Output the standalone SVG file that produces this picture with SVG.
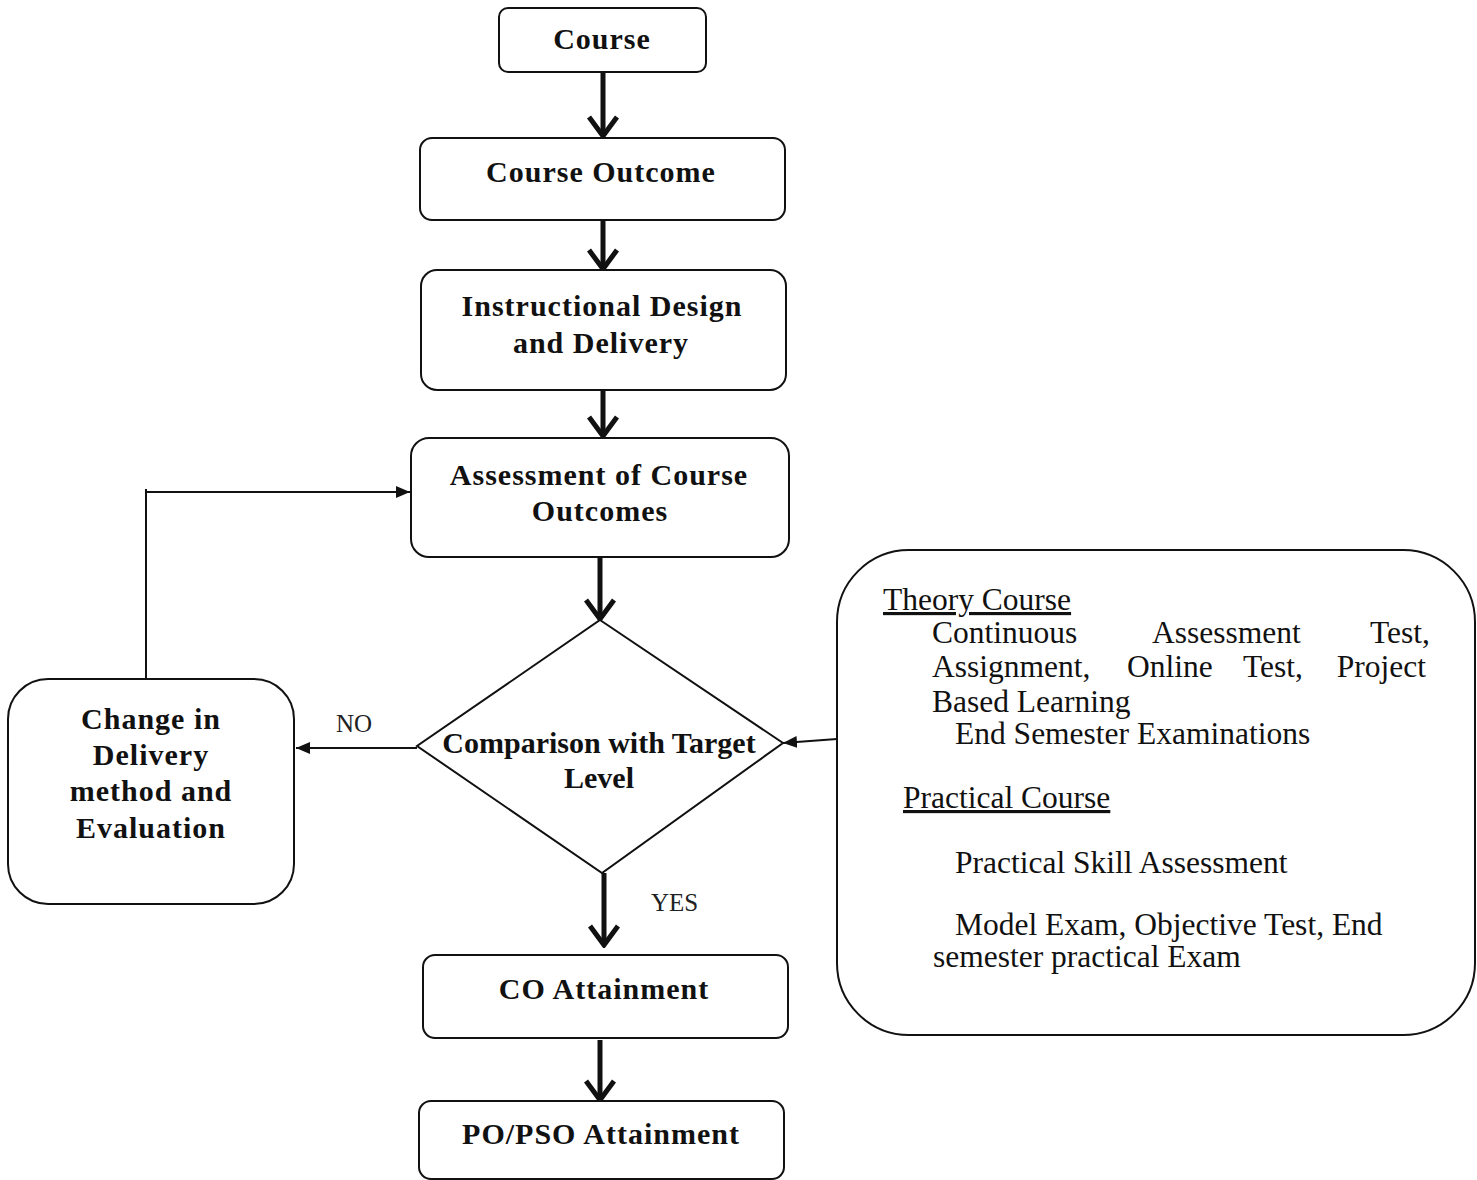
<svg xmlns="http://www.w3.org/2000/svg" width="1477" height="1180" viewBox="0 0 1477 1180">
<defs>
<style>
.box{fill:#fff;stroke:#111;stroke-width:2}
.nt{font-family:"Liberation Serif","Times New Roman",serif;font-weight:bold;font-size:30px;letter-spacing:1px;fill:#111;text-anchor:middle}
.dt{letter-spacing:0}
.rt{font-family:"Liberation Serif","Times New Roman",serif;font-size:31.5px;fill:#111}
.lbl{font-family:"Liberation Serif","Times New Roman",serif;font-size:25px;fill:#222}
.thick{stroke:#111;stroke-width:5;fill:none}
.thin{stroke:#111;stroke-width:2;fill:none}
</style>
<marker id="vee" viewBox="0 0 24 32" refX="21" refY="16" markerWidth="24" markerHeight="32" markerUnits="userSpaceOnUse" orient="auto">
<path d="M2,2 L21,16 L2,30" fill="none" stroke="#111" stroke-width="5"/>
</marker>
<marker id="tri" viewBox="0 0 14 12" refX="14" refY="6" markerWidth="14" markerHeight="12" markerUnits="userSpaceOnUse" orient="auto">
<path d="M0,0 L14,6 L0,12 Z" fill="#111"/>
</marker>
</defs>
<rect width="1477" height="1180" fill="#fff"/>

<g id="connectors">
<line class="thick" x1="603" y1="72" x2="603" y2="136" marker-end="url(#vee)"/>
<line class="thick" x1="603" y1="221" x2="603" y2="269" marker-end="url(#vee)"/>
<line class="thick" x1="603" y1="391" x2="603" y2="436" marker-end="url(#vee)"/>
<line class="thick" x1="600" y1="558" x2="600" y2="619" marker-end="url(#vee)"/>
<line class="thick" x1="604" y1="873" x2="604" y2="945" marker-end="url(#vee)"/>
<line class="thick" x1="600" y1="1040" x2="600" y2="1100" marker-end="url(#vee)"/>
<polyline class="thin" points="146,679 146,489"/>
<line class="thin" x1="145" y1="492" x2="410" y2="492" marker-end="url(#tri)"/>
<line class="thin" x1="417" y1="748" x2="296" y2="748" marker-end="url(#tri)"/>
<line class="thin" x1="837" y1="739" x2="783" y2="743" marker-end="url(#tri)"/>
<text class="lbl" x="336" y="732">NO</text>
<text class="lbl" x="651" y="911">YES</text>
</g>

<g id="course">
<rect class="box" x="499" y="8" width="207" height="64" rx="9"/>
<text class="nt" x="602" y="49">Course</text>
</g>

<g id="course-outcome">
<rect class="box" x="420" y="138" width="365" height="82" rx="12"/>
<text class="nt" x="601" y="182">Course Outcome</text>
</g>

<g id="instructional-design">
<rect class="box" x="421" y="270" width="365" height="120" rx="16"/>
<text class="nt" x="602" y="316">Instructional Design</text>
<text class="nt" x="601" y="353">and Delivery</text>
</g>

<g id="assessment">
<rect class="box" x="411" y="438" width="378" height="119" rx="18"/>
<text class="nt" x="599" y="485">Assessment of Course</text>
<text class="nt" x="600" y="521">Outcomes</text>
</g>

<g id="comparison">
<polygon class="box" points="600,620 783,743 602,873 417,746"/>
<text class="nt dt" x="599" y="753">Comparison with Target</text>
<text class="nt dt" x="599" y="788">Level</text>
</g>

<g id="change">
<rect class="box" x="8" y="679" width="286" height="225" rx="40"/>
<text class="nt" x="151" y="729">Change in</text>
<text class="nt" x="151" y="765">Delivery</text>
<text class="nt" x="151" y="801">method and</text>
<text class="nt" x="151" y="838">Evaluation</text>
</g>

<g id="assessment-methods">
<rect class="box" x="837" y="550" width="638" height="485" rx="72"/>
<text class="rt" x="883" y="610" text-decoration="underline">Theory Course</text>
<text class="rt" x="932" y="643">Continuous</text>
<text class="rt" x="1152" y="643">Assessment</text>
<text class="rt" x="1430" y="643" text-anchor="end">Test,</text>
<text class="rt" x="932" y="677">Assignment,</text>
<text class="rt" x="1127" y="677">Online</text>
<text class="rt" x="1243" y="677">Test,</text>
<text class="rt" x="1426" y="677" text-anchor="end">Project</text>
<text class="rt" x="932" y="712">Based Learning</text>
<text class="rt" x="955" y="744">End Semester Examinations</text>
<text class="rt" x="903" y="808" text-decoration="underline">Practical Course</text>
<text class="rt" x="955" y="873">Practical Skill Assessment</text>
<text class="rt" x="955" y="935">Model Exam, Objective Test, End</text>
<text class="rt" x="933" y="967">semester practical Exam</text>
</g>

<g id="co-attainment">
<rect class="box" x="423" y="955" width="365" height="83" rx="12"/>
<text class="nt" x="604" y="999">CO Attainment</text>
</g>

<g id="po-attainment">
<rect class="box" x="419" y="1101" width="365" height="78" rx="12"/>
<text class="nt" x="601" y="1144">PO/PSO Attainment</text>
</g>
</svg>
